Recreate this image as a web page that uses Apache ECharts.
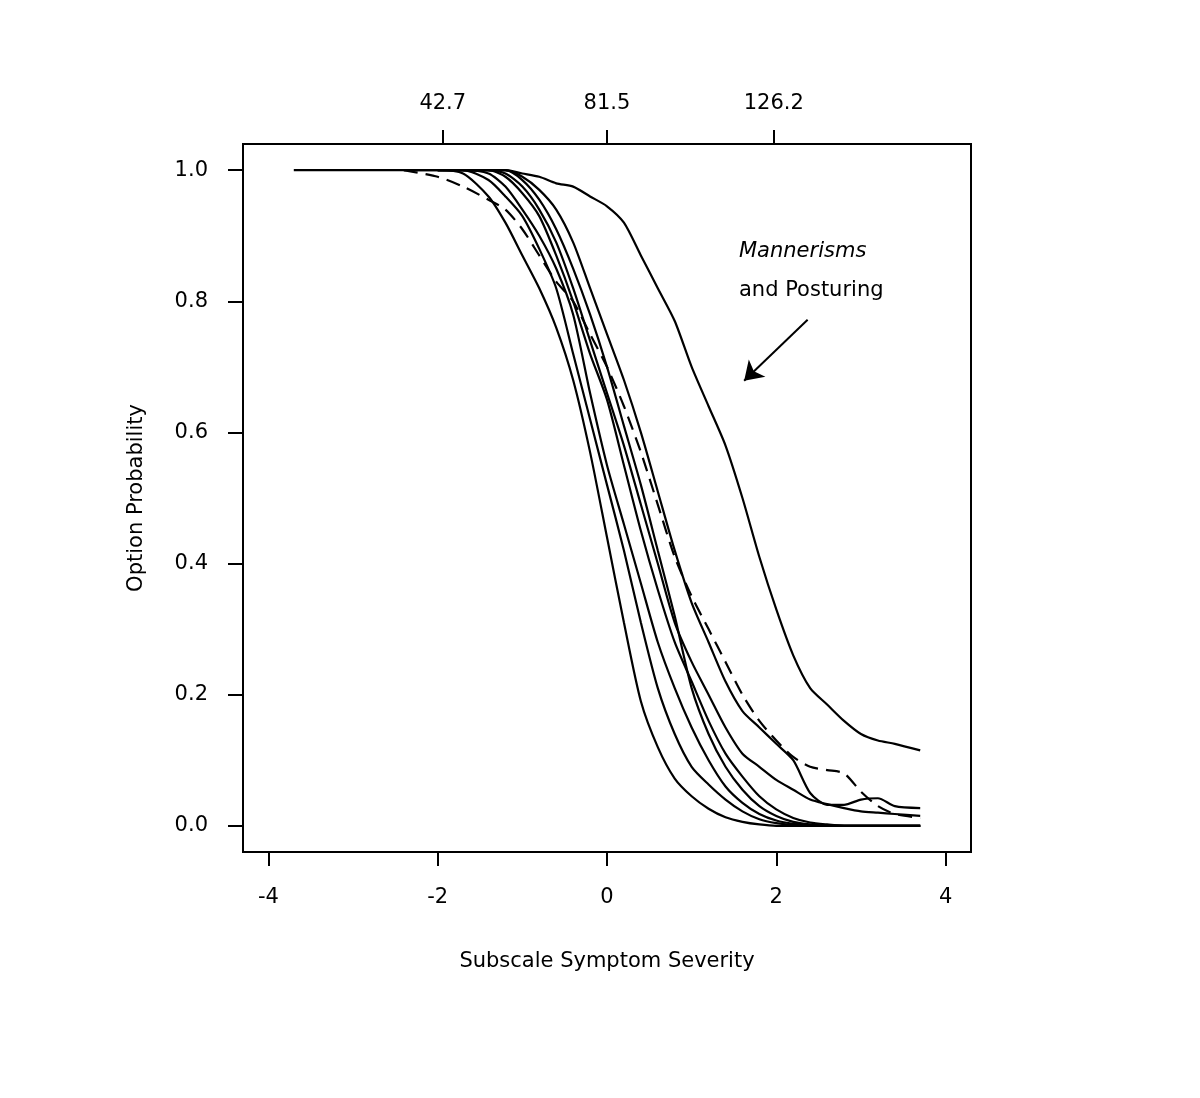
<!DOCTYPE html>
<html><head><meta charset="utf-8">
<script src="https://cdn.jsdelivr.net/npm/echarts@6/dist/echarts.min.js"></script>
<style>html,body{margin:0;padding:0;background:#fff}#c{width:1200px;height:1098px}</style>
</head><body><div id="c"></div>
<script>
const theta = [-3.7,-2.4,-2.0,-1.7,-1.4,-1.2,-1.0,-0.8,-0.6,-0.4,-0.2,0,0.2,0.4,0.6,0.8,1.0,1.2,1.4,1.6,1.8,2.0,2.2,2.4,2.6,2.8,3.0,3.2,3.4,3.7];
const item1 = [1,1,1,0.995,0.96,0.92,0.87,0.82,0.76,0.68,0.57,0.44,0.31,0.19,0.12,0.072,0.045,0.026,0.013,0.006,0.002,0,0,0,0,0,0,0,0,0];
const item2 = [null,1,1,1,0.985,0.96,0.93,0.88,0.82,0.72,0.62,0.52,0.42,0.31,0.21,0.14,0.09,0.063,0.04,0.022,0.01,0.004,0.001,0,0,0,0,0,0,0];
const item3 = [null,null,1,1,0.995,0.975,0.94,0.9,0.85,0.78,0.66,0.55,0.46,0.37,0.28,0.21,0.15,0.1,0.06,0.035,0.018,0.008,0.003,0.001,0,0,0,0,0,0];
const item4 = [null,null,1,1,1,0.99,0.965,0.93,0.87,0.8,0.72,0.65,0.55,0.45,0.36,0.28,0.22,0.16,0.11,0.075,0.045,0.025,0.012,0.005,0.002,0,0,0,0,0];
const item5 = [null,null,1,1,1,0.995,0.975,0.94,0.89,0.82,0.74,0.66,0.58,0.49,0.40,0.31,0.25,0.2,0.15,0.11,0.09,0.07,0.055,0.04,0.033,0.027,0.022,0.02,0.018,0.015];
const item6 = [null,1,0.99,0.975,0.955,0.94,0.91,0.87,0.83,0.80,0.75,0.70,0.64,0.57,0.49,0.41,0.35,0.30,0.25,0.20,0.16,0.13,0.105,0.09,0.085,0.08,0.052,0.03,0.018,0.012];
const item7 = [null,null,null,1,1,1,0.99,0.97,0.94,0.89,0.82,0.75,0.68,0.60,0.51,0.42,0.34,0.28,0.22,0.175,0.15,0.125,0.1,0.05,0.032,0.032,0.04,0.042,0.03,0.027];
const item8 = [null,null,1,1,1,1,0.985,0.955,0.91,0.85,0.78,0.70,0.61,0.52,0.42,0.32,0.21,0.14,0.09,0.055,0.03,0.015,0.006,0.002,0,0,0,0,0,0];
const mannerisms = [null,null,null,null,1,1,0.995,0.99,0.98,0.975,0.96,0.945,0.92,0.87,0.82,0.77,0.70,0.64,0.58,0.5,0.41,0.33,0.26,0.21,0.185,0.16,0.14,0.13,0.125,0.115];
const xTicks = [-4,-2,0,2,4];
const yTicks = [0,0.2,0.4,0.6,0.8,1.0];
const topTickPos = [-1.94,0,1.97];
const topTickLabels = ['42.7','81.5','126.2'];
const arrowFrom = [2.37,0.772];
const arrowTo = [1.62,0.679];

const FONT = 'DejaVu Sans';
function pts(v){ const out=[]; v.forEach((p,i)=>{ if(p!==null) out.push([theta[i],p]); }); return out; }
function line(v, dashed){
  return {type:'line', data:pts(v), symbol:'none', smooth:0.25, silent:true,
    itemStyle:{color:'#000'},
    lineStyle:{color:'#000', width:2.2, type: dashed ? [14,8] : 'solid'}};
}
const series = [item1,item2,item3,item4,item5,item8].map(v=>line(v,false));
series.push(line(item6,true));
series.push(line(item7,false));
const rs = line(mannerisms,false);
rs.markLine = {silent:true, symbol:['none','arrow'], symbolSize:18,
  itemStyle:{color:'#000'},
  lineStyle:{color:'#000', width:2, type:'solid'}, label:{show:false},
  data:[[{coord:arrowFrom},{coord:arrowTo}]]};
series.push(rs);

const lbl = {color:'#000', fontFamily:FONT, fontSize:21};
const chart = echarts.init(document.getElementById('c'));
chart.setOption({
  animation:false,
  backgroundColor:'#fff',
  grid:{left:243, top:144, right:229, bottom:246, show:true, borderColor:'#000', borderWidth:2, backgroundColor:'transparent'},
  xAxis:[{
    type:'value', min:-4.3, max:4.3, position:'bottom',
    name:'Subscale Symptom Severity', nameLocation:'middle', nameGap:99,
    nameTextStyle:lbl,
    axisLine:{show:true, onZero:false, lineStyle:{color:'#000', width:2}},
    axisTick:{show:true, inside:false, length:14, customValues:xTicks, lineStyle:{color:'#000', width:2}},
    axisLabel:Object.assign({margin:35, customValues:xTicks, formatter:v=>String(v)}, lbl),
    splitLine:{show:false}
  },{
    type:'value', min:-4.3, max:4.3, position:'top',
    axisLine:{show:true, onZero:false, lineStyle:{color:'#000', width:2}},
    axisTick:{show:true, inside:false, length:14, customValues:topTickPos, lineStyle:{color:'#000', width:2}},
    axisLabel:Object.assign({margin:30, customValues:topTickPos, formatter:v=>{const i=topTickPos.indexOf(v); return i>=0?topTickLabels[i]:'';}}, lbl),
    splitLine:{show:false}
  }],
  yAxis:{
    type:'value', min:-0.04, max:1.04,
    name:'Option Probability', nameLocation:'middle', nameGap:96, nameRotate:90,
    nameTextStyle:lbl,
    axisLine:{show:true, onZero:false, lineStyle:{color:'#000', width:2}},
    axisTick:{show:true, inside:false, length:15, customValues:yTicks, lineStyle:{color:'#000', width:2}},
    axisLabel:Object.assign({margin:35, customValues:yTicks, formatter:v=>v.toFixed(1)}, lbl),
    splitLine:{show:false}
  },
  graphic:[
    {type:'text', left:739, top:241, style:{text:'Mannerisms', fill:'#000', font:'italic 21px "DejaVu Sans"'}},
    {type:'text', left:739, top:280, style:{text:'and Posturing', fill:'#000', font:'21px "DejaVu Sans"'}}
  ],
  series:series
});
</script></body></html>
